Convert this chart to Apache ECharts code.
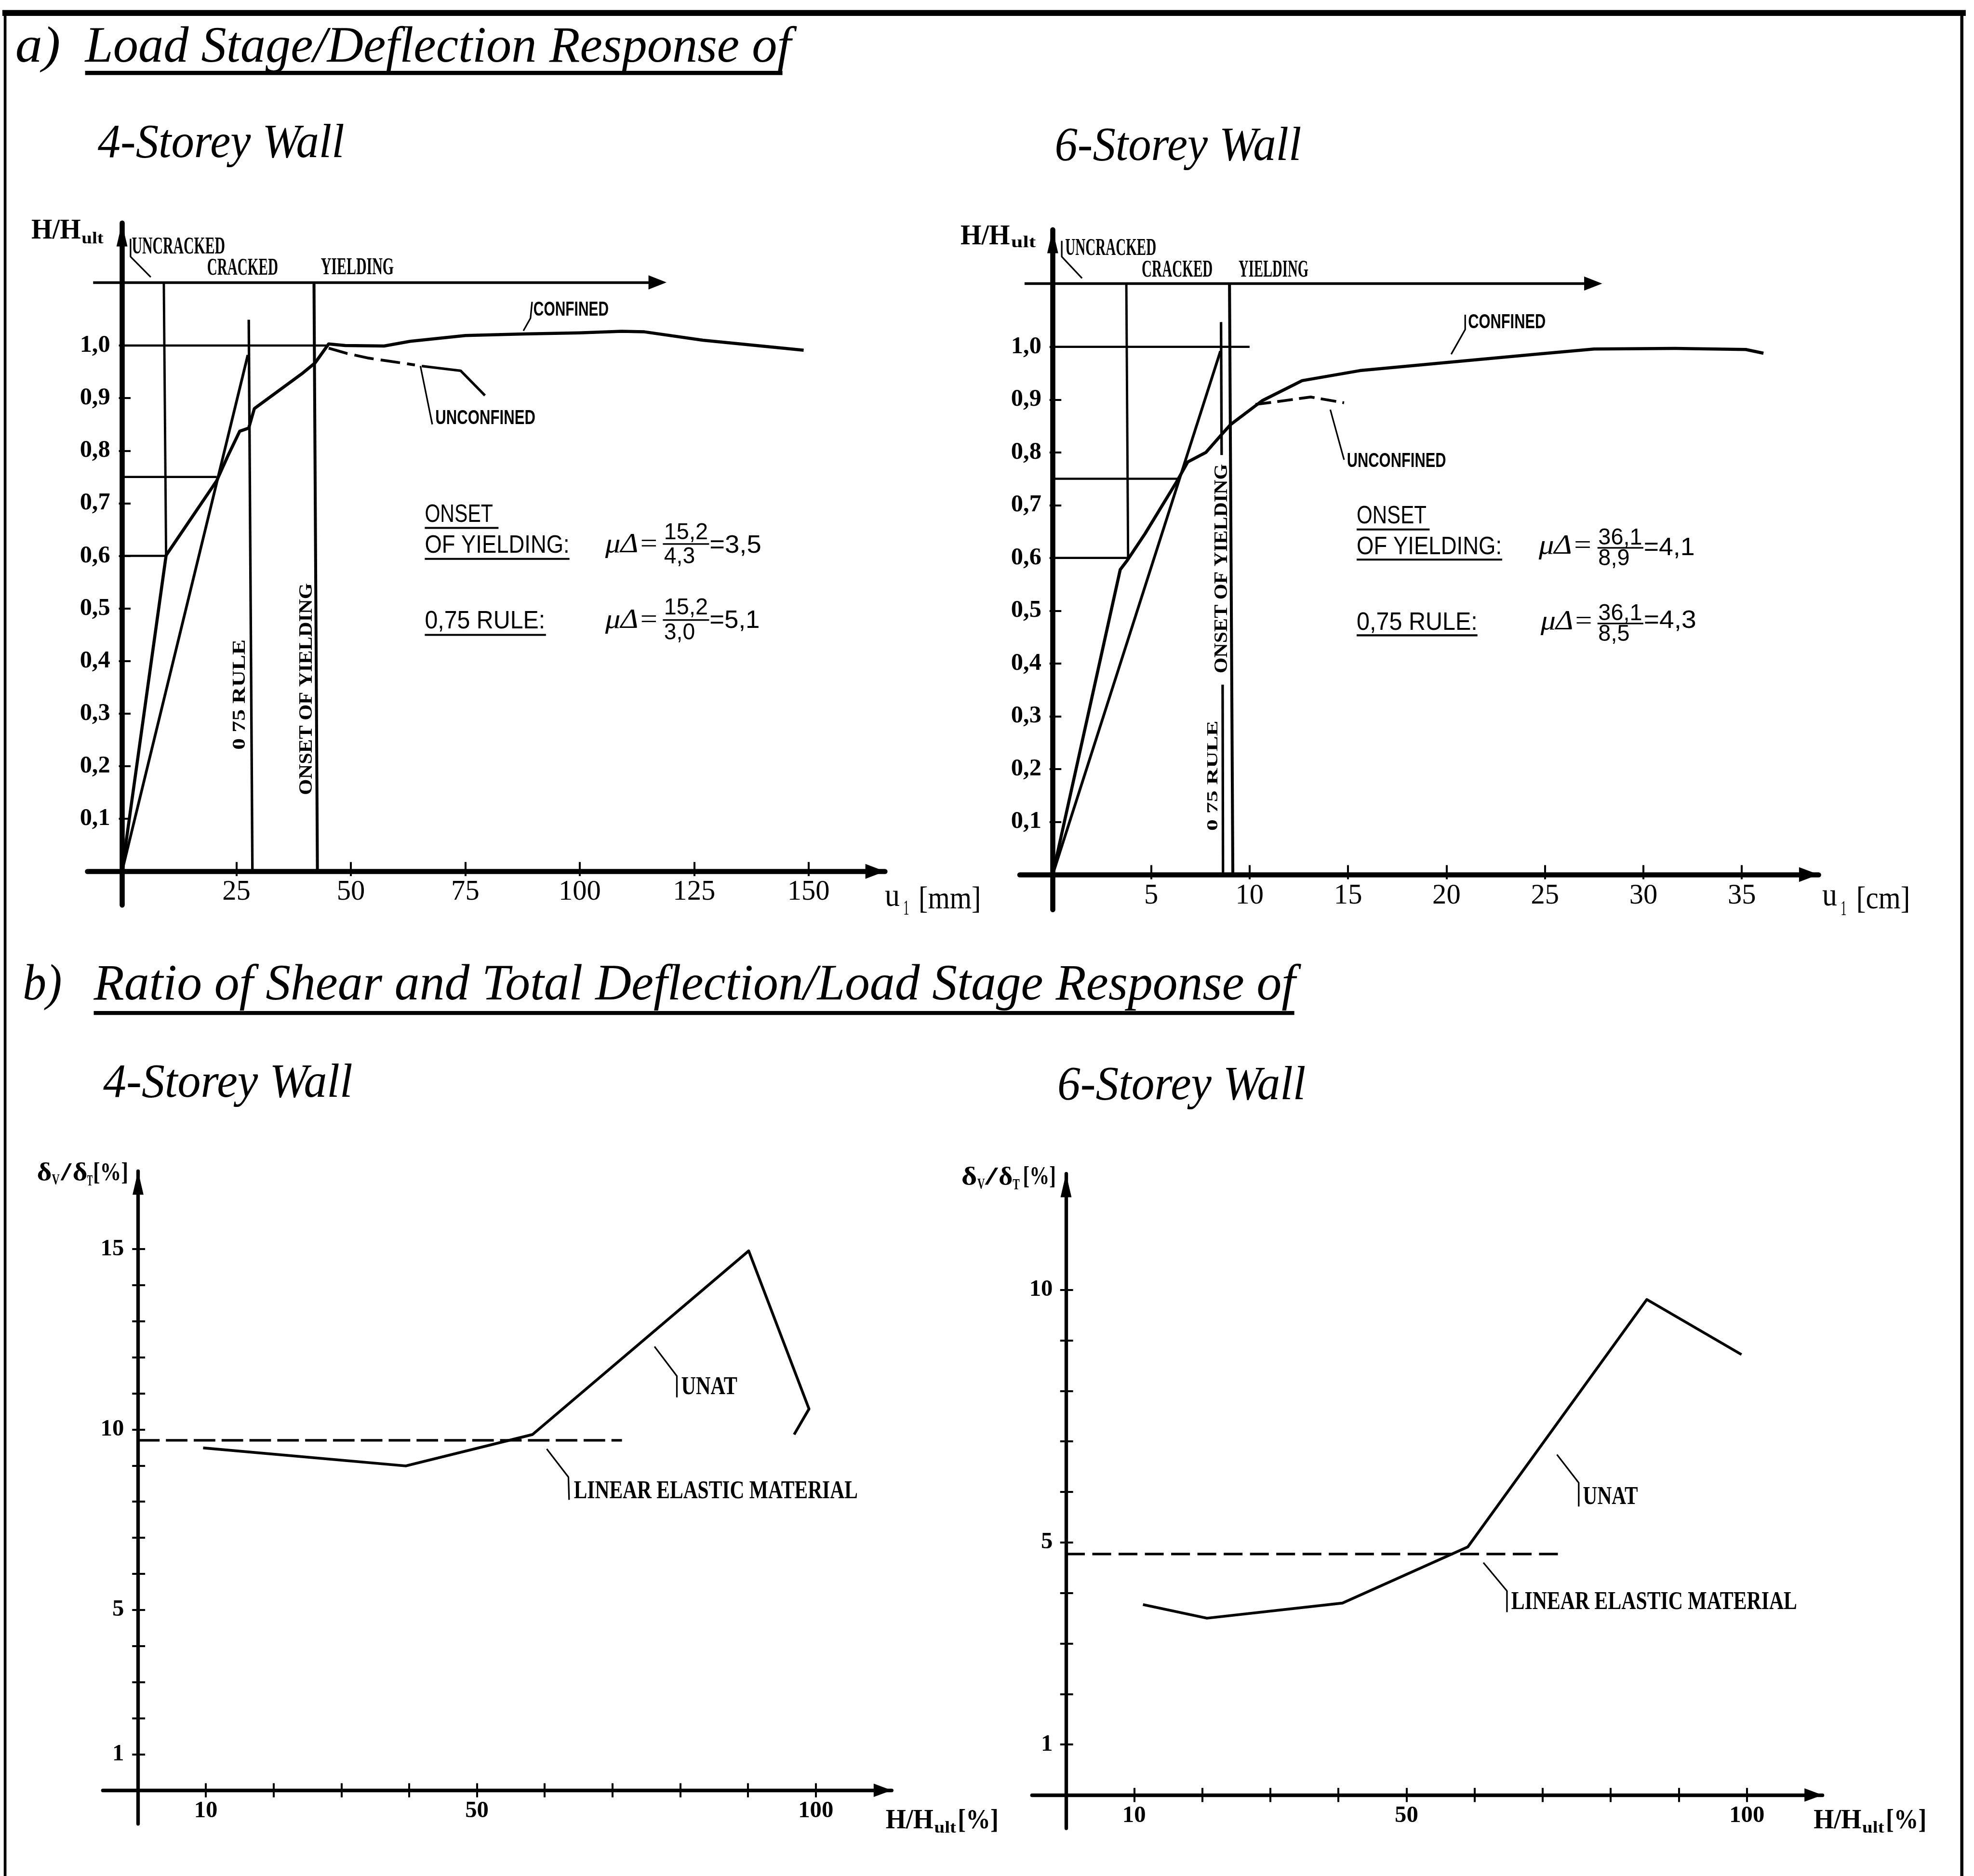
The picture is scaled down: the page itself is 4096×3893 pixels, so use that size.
<!DOCTYPE html>
<html>
<head>
<meta charset="utf-8">
<title>Load stage / deflection response of 4- and 6-storey walls</title>
<script src="https://cdn.jsdelivr.net/npm/echarts@6.0.0/dist/echarts.min.js"></script>
<style>
  html, body { margin: 0; padding: 0; background: #ffffff; }
  #chart { width: 4096px; height: 3893px; }
</style>
</head>
<body>
<div id="chart"></div>
<script>
// ---------------- data ----------------
// a) 4-storey wall: top deflection u1 [mm] against load stage H/Hult
const wall4Defl = [0, 9.64, 20.70, 23.02, 25.72, 27.69, 28.92, 39.25, 42.20, 45.16, 48.76, 57.28, 62.96, 75.05, 87.83, 99.91, 109.15, 114.13, 126.91, 148.93];
const wall4Load = [0, 0.601, 0.743, 0.788, 0.837, 0.843, 0.880, 0.946, 0.967, 1.003, 1.000, 0.999, 1.008, 1.019, 1.022, 1.024, 1.027, 1.026, 1.010, 0.991];
const wall4UnconfDefl = [45.16, 49.1, 53.9, 64.0];
const wall4UnconfLoad = [0.995, 0.985, 0.976, 0.963];
const wall4UnconfTailDefl = [65.5, 74.0, 79.3];
const wall4UnconfTailLoad = [0.961, 0.952, 0.905];
const wall4Secant = [[0, 0], [27.5, 0.982]];
const wall4Levels = [[[0, 1.0], [45.2, 1.0]], [[0, 0.75], [20.7, 0.75]], [[0, 0.6], [9.6, 0.6]]];
const wall4Cracking = [[9.14, 1.12], [9.64, 0.60]];
const wall4Rule075 = [[27.7, 1.049], [28.5, 0]];
const wall4Yield = [[41.95, 1.12], [42.7, 0]];
const wall4Stage = [[-6.3, 1.12], [117.0, 1.12]];
const wall4Leaders = [
  [[1.87, 1.203], [1.87, 1.169], [6.29, 1.130]],
  [[89.6, 1.083], [89.25, 1.052], [87.7, 1.028]],
  [[65.2, 0.961], [67.8, 0.850]]
];

// a) 6-storey wall: top deflection u1 [cm] against load stage H/Hult
const wall6Defl = [0, 3.43, 3.78, 4.69, 6.29, 6.86, 7.78, 8.58, 9.04, 10.64, 12.67, 15.6, 20.2, 24.5, 27.5, 31.6, 35.2, 36.1];
const wall6Load = [0, 0.578, 0.595, 0.646, 0.744, 0.782, 0.800, 0.834, 0.853, 0.898, 0.936, 0.955, 0.971, 0.986, 0.996, 0.997, 0.995, 0.988];
const wall6UnconfDefl = [10.3, 11.35, 13.1, 14.8];
const wall6UnconfLoad = [0.891, 0.896, 0.905, 0.894];
const wall6Secant = [[0, 0], [8.52, 0.992]];
const wall6Levels = [[[0, 1.0], [10.0, 1.0]], [[0, 0.75], [6.4, 0.75]], [[0, 0.6], [3.8, 0.6]]];
const wall6Cracking = [[3.74, 1.12], [3.83, 0.60]];
const wall6Rule075 = [[[8.55, 1.047], [8.58, 0.795]], [[8.63, 0.36], [8.65, 0]]];
const wall6Yield = [[8.98, 1.12], [9.15, 0]];
const wall6Stage = [[-1.43, 1.12], [27.45, 1.12]];
const wall6Leaders = [
  [[0.46, 1.201], [0.46, 1.171], [1.49, 1.130]],
  [[20.95, 1.061], [20.95, 1.033], [20.24, 0.986]],
  [[14.1, 0.881], [14.8, 0.786]]
];

// b) ratio of shear to total deflection [%] against load stage H/Hult [%]
const ratio4Load = [9.6, 39.5, 58.2, 90.1, 99.0, 96.8];
const ratio4Unat = [9.49, 8.99, 9.86, 14.95, 10.57, 9.86];
const ratio4Elastic = [[0, 9.7], [71.4, 9.7]];
const ratio4Leaders = [
  [[76.2, 12.30], [79.5, 11.48], [79.5, 10.89]],
  [[60.3, 9.46], [63.5, 8.68], [63.6, 8.05]]
];
const ratio6Load = [11.3, 20.7, 40.6, 59.0, 85.3, 99.2];
const ratio6Unat = [3.77, 3.50, 3.80, 4.91, 9.81, 8.72];
const ratio6Elastic = [[0, 4.77], [72.7, 4.77]];
const ratio6Leaders = [
  [[72.1, 6.74], [75.3, 6.18], [75.3, 5.71]],
  [[61.3, 4.60], [64.76, 4.04], [64.76, 3.62]]
];

// axis ticks and labels
const loadTicks = [0.1, 0.2, 0.3, 0.4, 0.5, 0.6, 0.7, 0.8, 0.9, 1.0];
const wall4DeflTicks = [25, 50, 75, 100, 125, 150];
const wall6DeflTicks = [5, 10, 15, 20, 25, 30, 35];
const loadPctTicks = [10, 20, 30, 40, 50, 60, 70, 80, 90, 100];
const loadPctLabels = [10, 50, 100];
const ratio4Ticks = [1, 2, 3, 4, 5, 6, 7, 8, 9, 10, 11, 12, 13, 14, 15];
const ratio4Labels = [1, 5, 10, 15];
const ratio6Ticks = [1, 2, 3, 4, 5, 6, 7, 8, 9, 10];
const ratio6Labels = [1, 5, 10];

// ---------------- drawing ----------------
// layout is specified on a 5033-unit wide sheet and scaled to the canvas
const S = 4096 / 5033;
const INK = '#000000';
const SERIF = '"Liberation Serif", "DejaVu Serif", serif';
const SANS = '"Liberation Sans", "DejaVu Sans", sans-serif';
const zip = (a, b) => a.map((v, i) => [v, b[i]]);

// panel frames: origin pixel, pixels per unit and visible range of each axis
const panels = [
  { x0: 311, y0: 2222, kx: 11.67, ky: 1341, xr: [-7.54, 166.7], yr: [-0.064, 1.233] },
  { x0: 2684, y0: 2230, kx: 50.2, ky: 1345.5, xr: [-1.67, 38.9], yr: [-0.0665, 1.222] },
  { x0: 352, y0: 4565, kx: 17.28, ky: 92, xr: [-5.2, 111.2], yr: [-0.93, 17.16] },
  { x0: 2718, y0: 4577, kx: 17.36, ky: 128.8, xr: [-5.0, 111.1], yr: [-0.66, 12.3] }
];

const grids = panels.map(p => ({
  left: (p.x0 + p.xr[0] * p.kx) * S,
  top: (p.y0 - p.yr[1] * p.ky) * S,
  width: (p.xr[1] - p.xr[0]) * p.kx * S,
  height: (p.yr[1] - p.yr[0]) * p.ky * S,
  containLabel: false,
  outerBoundsMode: 'none'
}));

// each axis is a pair: the drawn axis (line, outer ticks, labels) and a twin carrying the inner ticks.
// Tick labels are laid out from the grid edge, so their margin is counted from there.
function axisPair(i, dim, o) {
  const p = panels[i];
  const range = dim === 'x' ? p.xr : p.yr;
  const base = {
    gridIndex: i, type: 'value', min: range[0], max: range[1],
    position: dim === 'x' ? 'bottom' : 'left',
    splitLine: { show: false }, minorTick: { show: false }, minorSplitLine: { show: false },
    silent: true
  };
  const tickStyle = { color: INK, width: o.tickW * S };
  const main = Object.assign({}, base, {
    axisLine: {
      show: true, onZero: true, onZeroAxisIndex: 2 * i,
      symbol: ['none', 'triangle'], symbolSize: [o.arrowW * S, o.arrowL * S],
      symbolOffset: [0, -o.arrowL * S / 2],
      lineStyle: { color: INK, width: o.lineW * S }
    },
    axisTick: { show: true, inside: false, length: o.tickOut * S, customValues: o.ticks, lineStyle: tickStyle },
    axisLabel: {
      show: true, customValues: o.labels, formatter: o.fmt, margin: o.margin * S,
      color: INK, fontFamily: o.family, fontWeight: o.weight, fontSize: o.size * S
    }
  });
  const twin = Object.assign({}, base, {
    axisLine: { show: false, onZero: true, onZeroAxisIndex: 2 * i },
    axisTick: { show: true, inside: true, length: o.tickIn * S, customValues: o.ticks, lineStyle: tickStyle },
    axisLabel: { show: false }
  });
  return [main, twin];
}

const commaFmt = v => v.toFixed(1).replace('.', ',');
const intFmt = v => String(Math.round(v));

const xAxes = [
  ...axisPair(0, 'x', { ticks: wall4DeflTicks, labels: wall4DeflTicks, fmt: intFmt, margin: -69, family: SERIF, weight: 'normal', size: 72, tickOut: 12, tickIn: 24, tickW: 5, lineW: 13, arrowW: 38, arrowL: 50 }),
  ...axisPair(1, 'x', { ticks: wall6DeflTicks, labels: wall6DeflTicks, fmt: intFmt, margin: -71, family: SERIF, weight: 'normal', size: 72, tickOut: 12, tickIn: 24, tickW: 5, lineW: 13, arrowW: 38, arrowL: 50 }),
  ...axisPair(2, 'x', { ticks: loadPctTicks, labels: loadPctLabels, fmt: intFmt, margin: -62, family: SERIF, weight: 'bold', size: 60, tickOut: 18, tickIn: 18, tickW: 5, lineW: 9, arrowW: 34, arrowL: 46 }),
  ...axisPair(3, 'x', { ticks: loadPctTicks, labels: loadPctLabels, fmt: intFmt, margin: -62, family: SERIF, weight: 'bold', size: 60, tickOut: 18, tickIn: 18, tickW: 5, lineW: 9, arrowW: 34, arrowL: 46 })
];
const yAxes = [
  ...axisPair(0, 'y', { ticks: loadTicks, labels: loadTicks, fmt: commaFmt, margin: -58, family: SERIF, weight: 'bold', size: 62, tickOut: 8, tickIn: 22, tickW: 5, lineW: 13, arrowW: 28, arrowL: 60 }),
  ...axisPair(1, 'y', { ticks: loadTicks, labels: loadTicks, fmt: commaFmt, margin: -55, family: SERIF, weight: 'bold', size: 62, tickOut: 8, tickIn: 22, tickW: 5, lineW: 13, arrowW: 28, arrowL: 60 }),
  ...axisPair(2, 'y', { ticks: ratio4Ticks, labels: ratio4Labels, fmt: intFmt, margin: -54, family: SERIF, weight: 'bold', size: 60, tickOut: 15, tickIn: 18, tickW: 5, lineW: 9, arrowW: 28, arrowL: 60 }),
  ...axisPair(3, 'y', { ticks: ratio6Ticks, labels: ratio6Labels, fmt: intFmt, margin: -53, family: SERIF, weight: 'bold', size: 60, tickOut: 15, tickIn: 18, tickW: 5, lineW: 9, arrowW: 28, arrowL: 60 })
];

const series = [];
function line(gi, pts, w, dash) {
  series.push({
    type: 'line', xAxisIndex: 2 * gi, yAxisIndex: 2 * gi, data: pts,
    showSymbol: false, symbol: 'none', silent: true, animation: false, z: 3,
    lineStyle: { color: INK, width: w * S, type: dash ? dash.map(d => d * S) : 'solid', join: 'round' }
  });
}
function arrowLine(gi, pts, w) {
  series.push({
    type: 'line', xAxisIndex: 2 * gi, yAxisIndex: 2 * gi, data: [], silent: true, animation: false,
    markLine: {
      silent: true, animation: false, symbol: ['none', 'triangle'], symbolSize: [36 * S, 46 * S],
      label: { show: false }, lineStyle: { color: INK, width: w * S, type: 'solid' },
      data: [[{ coord: pts[0] }, { coord: pts[1] }]]
    }
  });
}

// 4-storey wall
line(0, zip(wall4Defl, wall4Load), 8);
line(0, zip(wall4UnconfDefl, wall4UnconfLoad), 7, [50, 18]);
line(0, zip(wall4UnconfTailDefl, wall4UnconfTailLoad), 6.5);
line(0, wall4Secant, 7);
wall4Levels.forEach(seg => line(0, seg, 5.5));
line(0, wall4Cracking, 6);
line(0, wall4Rule075, 6.5);
line(0, wall4Yield, 7.5);
arrowLine(0, wall4Stage, 6.5);
wall4Leaders.forEach(seg => line(0, seg, 4));

// 6-storey wall
line(1, zip(wall6Defl, wall6Load), 8);
line(1, zip(wall6UnconfDefl, wall6UnconfLoad), 7, [40, 16]);
line(1, wall6Secant, 7);
wall6Levels.forEach(seg => line(1, seg, 5.5));
line(1, wall6Cracking, 6);
wall6Rule075.forEach(seg => line(1, seg, 6.5));
line(1, wall6Yield, 7.5);
arrowLine(1, wall6Stage, 6.5);
wall6Leaders.forEach(seg => line(1, seg, 4));

// shear / total deflection ratios
line(2, zip(ratio4Load, ratio4Unat), 7);
line(2, ratio4Elastic, 6.5, [55, 16]);
ratio4Leaders.forEach(seg => line(2, seg, 4));
line(3, zip(ratio6Load, ratio6Unat), 7);
line(3, ratio6Elastic, 6.5, [48, 19]);
ratio6Leaders.forEach(seg => line(3, seg, 4));

// ---------------- text and rules ----------------
const measure = document.createElement('canvas').getContext('2d');
function fontOf(o, px) {
  return (o.italic ? 'italic ' : '') + (o.bold ? 'bold ' : '') + px.toFixed(2) + 'px ' + (o.family || SERIF);
}
// text set on a baseline, squeezed horizontally to the given width
function txt(str, x, base, size, width, o = {}) {
  const font = fontOf(o, size * S);
  measure.font = font;
  const w = measure.measureText(str).width;
  return {
    type: 'text', silent: true, z: 50,
    x: x * S, y: (base - 0.34 * size) * S,
    scaleX: width ? (width * S) / w : 1,
    style: { text: str, font: font, fill: INK, align: 'left', verticalAlign: 'middle' }
  };
}
// text running bottom-to-top, centred on (cx, cy)
function vtxt(str, cx, cy, size, len, o = {}) {
  const font = fontOf(o, size * S);
  measure.font = font;
  const w = measure.measureText(str).width;
  return {
    type: 'text', silent: true, z: 50,
    x: cx * S, y: cy * S, rotation: Math.PI / 2,
    scaleX: (len * S) / w,
    style: { text: str, font: font, fill: INK, align: 'center', verticalAlign: 'middle' }
  };
}
function rule(x1, y, x2, w) {
  return { type: 'line', silent: true, z: 50, shape: { x1: x1 * S, y1: y * S, x2: x2 * S, y2: y * S }, style: { stroke: INK, lineWidth: w * S } };
}
function vrule(x, y1, y2, w) {
  return { type: 'line', silent: true, z: 50, shape: { x1: x * S, y1: y1 * S, x2: x * S, y2: y2 * S }, style: { stroke: INK, lineWidth: w * S } };
}

const B = { bold: true };
const BS = { bold: true, family: SANS };
const N = { family: SANS };
const IT = { italic: true };

const elements = [
  // frame
  rule(6, 33, 5012, 15), vrule(13, 26, 4784, 7), vrule(5002, 26, 4784, 8),

  // headings
  txt('a)', 39, 167, 131, 115, IT),
  txt('Load Stage/Deflection Response of', 217, 167, 131, 1800, IT), rule(217, 186, 1995, 11),
  txt('4-Storey Wall', 249, 410, 121, 629, IT),
  txt('6-Storey Wall', 2689, 417, 121, 629, IT),
  txt('b)', 58, 2558, 131, 100, IT),
  txt('Ratio of Shear and Total Deflection/Load Stage Response of', 239, 2558, 131, 3064, IT), rule(239, 2583, 3300, 10),
  txt('4-Storey Wall', 263, 2806, 121, 636, IT),
  txt('6-Storey Wall', 2696, 2812, 121, 633, IT),

  // axis titles, load/deflection panels
  txt('H/H', 80, 614, 72, 126, B), txt('ult', 208, 624, 42, 56, B),
  txt('H/H', 2449, 629, 72, 126, B), txt('ult', 2578, 634, 42, 63, B),
  txt('u', 2256, 2316, 84, 38), txt('1', 2303, 2336, 54, 15), txt('[mm]', 2342, 2323, 80, 159),
  txt('u', 4646, 2315, 84, 38), txt('1', 4693, 2337, 54, 15), txt('[cm]', 4733, 2322, 80, 137),

  // stage labels
  txt('UNCRACKED', 336, 652, 62, 238, B), txt('CRACKED', 528, 706, 62, 181, B), txt('YIELDING', 818, 704, 62, 186, B),
  txt('UNCRACKED', 2716, 655, 62, 232, B), txt('CRACKED', 2911, 710, 62, 181, B), txt('YIELDING', 3158, 710, 62, 178, B),

  // curve labels
  txt('CONFINED', 1360, 808, 53, 192, BS), txt('UNCONFINED', 1110, 1085, 53, 255, BS),
  txt('CONFINED', 3743, 840, 53, 198, BS), txt('UNCONFINED', 3434, 1194, 53, 253, BS),

  // vertical marker labels
  vtxt('0 75 RULE', 612, 1771, 46, 281, B), vtxt('ONSET OF YIELDING', 782, 1757, 48, 540, B),
  vtxt('0 75 RULE', 3093, 1978, 40, 281, B), vtxt('ONSET OF YIELDING', 3116, 1450, 48, 534, B),

  // ductility, 4-storey wall
  txt('ONSET', 1083, 1335, 64, 174, N), rule(1083, 1346, 1271, 5),
  txt('OF YIELDING:', 1083, 1414, 64, 369, N), rule(1083, 1425, 1452, 5),
  txt('\u03bc\u0394=', 1543, 1414, 70, 137, IT),
  txt('15,2', 1693, 1379, 60, 112, N), rule(1690, 1387, 1808, 4), txt('4,3', 1693, 1440, 60, 79, N),
  txt('=3,5', 1809, 1414, 64, 132, N),
  txt('0,75 RULE:', 1083, 1606, 64, 307, N), rule(1083, 1619, 1392, 5),
  txt('\u03bc\u0394=', 1543, 1606, 70, 137, IT),
  txt('15,2', 1693, 1571, 60, 112, N), rule(1690, 1581, 1808, 4), txt('3,0', 1693, 1634, 60, 79, N),
  txt('=5,1', 1809, 1605, 64, 128, N),

  // ductility, 6-storey wall
  txt('ONSET', 3459, 1338, 64, 178, N), rule(3459, 1350, 3645, 5),
  txt('OF YIELDING:', 3459, 1417, 64, 370, N), rule(3459, 1427, 3830, 5),
  txt('\u03bc\u0394=', 3923, 1417, 70, 138, IT),
  txt('36,1', 4075, 1392, 60, 112, N), rule(4073, 1397, 4190, 4), txt('8,9', 4075, 1445, 60, 80, N),
  txt('=4,1', 4191, 1420, 64, 130, N),
  txt('0,75 RULE:', 3459, 1610, 64, 308, N), rule(3459, 1620, 3767, 5),
  txt('\u03bc\u0394=', 3928, 1610, 70, 135, IT),
  txt('36,1', 4075, 1585, 60, 112, N), rule(4073, 1590, 4190, 4), txt('8,5', 4075, 1638, 60, 80, N),
  txt('=4,3', 4191, 1605, 64, 134, N),

  // ratio panels
  txt('UNAT', 1737, 3560, 66, 143, B), txt('LINEAR ELASTIC MATERIAL', 1463, 3826, 66, 724, B),
  txt('UNAT', 4036, 3840, 66, 140, B), txt('LINEAR ELASTIC MATERIAL', 3853, 4108, 66, 729, B),

  txt('\u03b4', 94, 3015, 66, 38, B), txt('V', 132, 3024, 38, 20, B), txt('/', 155, 3015, 66, 27, B),
  txt('\u03b4', 185, 3015, 66, 38, B), txt('T', 222, 3026, 38, 14, B), txt('[%]', 237, 3014, 66, 90, B),
  txt('\u03b4', 2451, 3026, 66, 40, B), txt('V', 2492, 3034, 38, 19, B), txt('/', 2512, 3026, 66, 32, B),
  txt('\u03b4', 2546, 3026, 66, 36, B), txt('T', 2582, 3036, 38, 18, B), txt('[%]', 2608, 3024, 66, 84, B),

  txt('H/H', 2258, 4668, 70, 122, B), txt('ult', 2382, 4676, 42, 56, B), txt('[%]', 2442, 4668, 70, 104, B),
  txt('H/H', 4624, 4668, 70, 122, B), txt('ult', 4748, 4676, 42, 56, B), txt('[%]', 4808, 4668, 70, 104, B)
];

const chart = echarts.init(document.getElementById('chart'), null, { renderer: 'canvas' });
chart.setOption({
  animation: false,
  backgroundColor: '#ffffff',
  textStyle: { fontFamily: SERIF, color: INK },
  grid: grids,
  xAxis: xAxes,
  yAxis: yAxes,
  series: series,
  graphic: { elements: elements }
});
</script>
</body>
</html>
